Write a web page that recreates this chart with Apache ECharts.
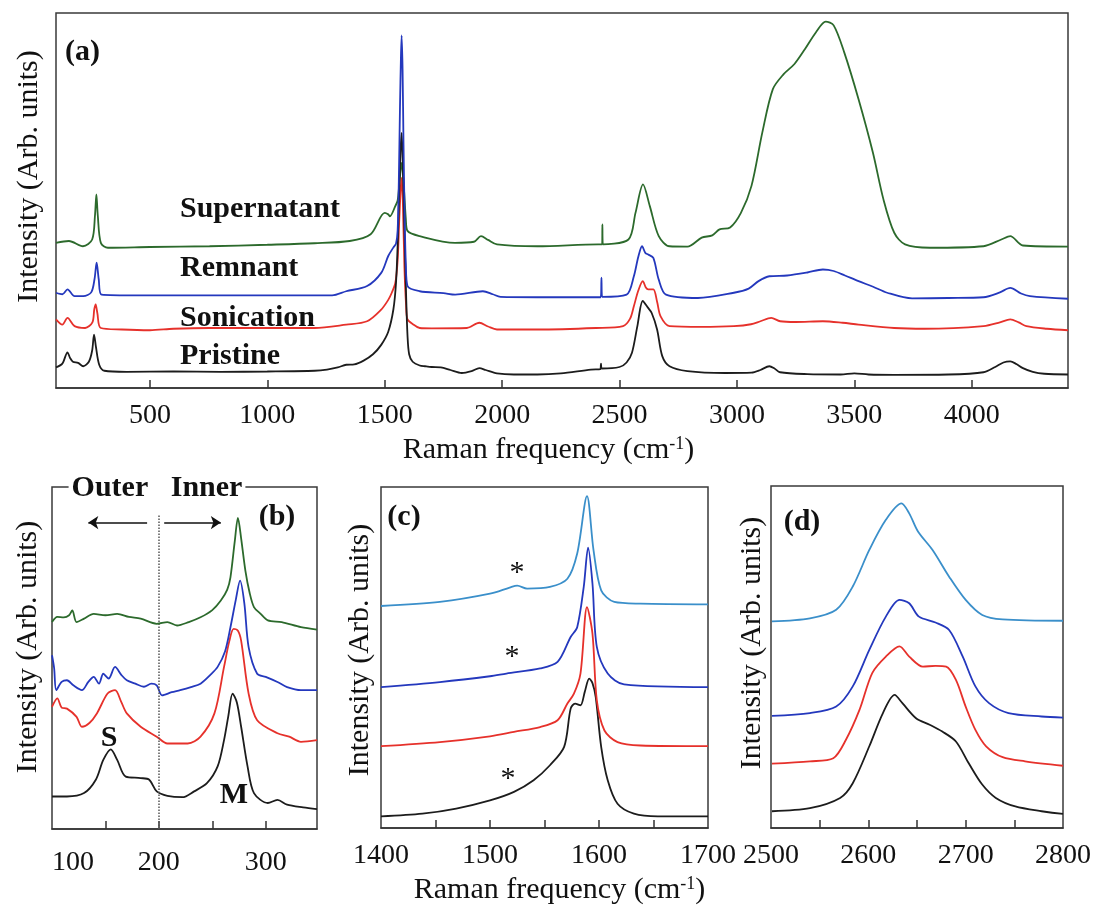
<!DOCTYPE html>
<html><head><meta charset="utf-8">
<script src="https://cdn.jsdelivr.net/npm/echarts@6/dist/echarts.min.js"></script>
<style>html,body{margin:0;padding:0;background:#fff}#c{width:1098px;height:909px}</style>
</head><body><div id="c"></div>
<script>
// ---------- Panel (a): full spectra ----------
const aTicks = [500, 1000, 1500, 2000, 2500, 3000, 3500, 4000];
const aPristine = [[100,5.5],[127,6.5],[149,9.5],[160,8],[172,7],[194,6.7],[216,5.8],[240,7],[254,10],[262,14.2],[270,11],[284,6.2],[306,4.6],[400,4.3],[600,4.4],[800,4.3],[1000,4.4],[1201,4.6],[1254,4.9],[1300,5.5],[1336,6.2],[1370,6.3],[1410,7.3],[1450,9],[1485,11.5],[1515,15],[1537,21],[1548,28],[1555,38],[1563,55],[1568,64],[1572,68],[1577,60],[1584,42],[1591,25],[1597,14],[1604,9],[1619,7],[1649,6],[1672,5.8],[1700,5.6],[1739,5.5],[1780,4.8],[1828,4.0],[1870,4.5],[1903,5.3],[1930,4.8],[1978,3.9],[2050,3.6],[2150,3.6],[2250,3.9],[2378,4.9],[2418,5.0],[2421,6.5],[2424,5.2],[2500,5.6],[2530,6.8],[2553,9.4],[2576,16.5],[2599,23.2],[2620,21.5],[2637,20],[2660,15.6],[2682,8.5],[2713,5.8],[2789,4.5],[2950,4.0],[3062,4.1],[3100,4.8],[3138,5.8],[3160,5.2],[3184,4.2],[3300,3.7],[3442,3.6],[3500,3.9],[3560,3.6],[3670,3.5],[3900,3.6],[4050,4.2],[4100,5.6],[4135,6.8],[4164,7.1],[4190,6.4],[4218,5.3],[4260,4.3],[4309,3.8],[4410,3.6]];
const aSonication = [[100,18.3],[127,16.9],[149,18.7],[179,16.5],[224,16],[255,17.5],[263,21],[269,22.3],[276,20],[291,16],[381,15.6],[500,15.4],[600,15.8],[754,16],[1000,16],[1201,16],[1336,16.9],[1425,17.8],[1485,20.9],[1515,23.5],[1530,25.4],[1545,28],[1555,34],[1562,45],[1568,53],[1572,56],[1577,50],[1584,32],[1591,22],[1597,18.3],[1620,17],[1649,16],[1700,15.9],[1850,16],[1903,17.4],[1940,16.4],[1978,15.6],[2150,15.6],[2400,16],[2515,16.5],[2545,18.5],[2561,21.8],[2580,26],[2599,28.5],[2612,26.8],[2622,26.3],[2644,26.3],[2660,23],[2675,19.1],[2713,16.5],[2850,16.3],[2987,16.5],[3060,17],[3100,17.8],[3146,18.7],[3184,17.8],[3250,17.6],[3366,17.8],[3450,17.4],[3518,16.9],[3670,16],[3800,15.8],[4050,16.5],[4120,17.5],[4164,18.3],[4200,17.5],[4233,16.5],[4320,15.8],[4410,15.4]];
const aRemnant = [[100,25.4],[127,25],[149,26.3],[179,24.5],[216,24.5],[250,25.5],[264,29],[273,33.4],[282,29],[294,24.9],[455,24.7],[800,24.7],[1276,24.7],[1336,25.8],[1425,27.2],[1485,30.7],[1515,35.2],[1537,37.5],[1548,38.5],[1555,42],[1560,55],[1565,75],[1569,88],[1572,94],[1576,85],[1580,65],[1585,45],[1590,33],[1597,27.2],[1649,25.8],[1750,25.3],[1800,24.9],[1918,25.8],[1960,25],[1993,24.3],[2150,24.2],[2420,24.2],[2423,29.4],[2426,24.3],[2530,24.9],[2561,29.8],[2580,35],[2596,37.8],[2610,36],[2622,35.6],[2644,34.7],[2667,28.9],[2698,24.9],[2834,24],[2987,25.4],[3050,26.5],[3092,28.5],[3138,29.8],[3214,30],[3300,30.8],[3366,31.6],[3412,31.2],[3460,30],[3518,28.5],[3580,27],[3640,25.4],[3746,23.9],[3900,24],[4050,24.2],[4120,25.5],[4164,26.7],[4210,25.2],[4248,24.5],[4410,23.8]];
const aSupernatant = [[100,38.7],[155,39.2],[215,37.8],[254,39.6],[266,46],[272,51.6],[278,46],[291,38.7],[321,37.4],[500,37.6],[754,37.8],[1000,38.2],[1201,38.6],[1351,39.2],[1440,41],[1500,46.7],[1515,46.3],[1522,45.8],[1545,48.5],[1555,50],[1563,55],[1572,60],[1580,55],[1590,45],[1597,41.9],[1649,40.5],[1799,38.7],[1880,39],[1910,40.5],[1940,39.5],[1978,38.3],[2150,37.8],[2409,38.3],[2426,38.3],[2427,43.6],[2429,38.3],[2538,39.6],[2568,46.7],[2600,54.3],[2629,48.5],[2667,40.5],[2713,37.8],[2789,37.7],[2850,40.1],[2895,40.7],[2926,42.3],[2971,42.8],[3017,46.7],[3062,53.9],[3108,68.1],[3153,79.7],[3199,83.7],[3245,86.4],[3290,90.4],[3336,94.8],[3378,97.7],[3412,96.7],[3457,89.5],[3518,77],[3579,62.8],[3624,50.3],[3670,41.4],[3716,38.3],[3822,37.4],[4050,37.8],[4126,39.6],[4164,40.5],[4218,38],[4410,37.7]];
const aNames = ['Supernatant', 'Remnant', 'Sonication', 'Pristine'];

// ---------- Panel (b): RBM region ----------
const bLabels = [100, 200, 300];
const bTicks = [150, 200, 250, 300];
const bPristine = [[100,9.5],[114,9.5],[130,10.5],[141,14.4],[148,20.2],[155,23.3],[161,20.2],[169,15.3],[183,14.9],[191,14.4],[198,11],[208,9.7],[222,9.3],[233,11],[245,13.4],[255,18.3],[261,26],[265,33],[269,39.6],[273,37],[277,29.9],[283,18.3],[289,10.5],[302,7.6],[311,8.5],[320,7.1],[335,6.3],[348,5.8]];
const bSonication = [[100,35.7],[105,38.2],[109,35.5],[114,35.2],[123,32.8],[128,29.9],[135,31],[142,33.8],[152,39.6],[159,40.6],[165,37],[170,33.8],[183,29.9],[198,27],[208,25],[227,25],[239,27],[252,33.8],[261,47.4],[266,55],[270,58.5],[274,58],[277,55.1],[284,39.6],[292,31.8],[311,28],[322,27],[333,25.5],[348,26]];
const bRemnant = [[100,50.8],[102,47],[104,40.6],[109,43],[114,43.5],[120,42],[128,40.6],[134,43],[139,44.5],[144,42.5],[148,45.4],[153,44],[159,47.4],[165,45],[170,43.5],[178,42.5],[186,41.6],[193,42.5],[198,42],[203,39.1],[212,40],[220,40.6],[230,41.5],[239,42.5],[248,45],[255,47.4],[262,52],[267,59],[272,67],[276,72.6],[280,66],[284,53.2],[292,45.4],[300,44.5],[311,43],[320,41.5],[333,40.6],[348,40.6]];
const bSupernatant = [[100,60.5],[105,62],[111,61.9],[116,62.5],[119,63.9],[123,60.5],[130,61.5],[139,62.9],[150,62.5],[161,62.9],[172,62],[183,61.5],[198,60],[208,60.5],[217,59.5],[228,60.5],[239,61.9],[250,64],[258,66.8],[264,70],[267,73.6],[271,84],[274,91],[277,85],[281,75.5],[285,69],[289,64.9],[295,63],[302,61],[315,60.5],[333,59],[348,58.3]];

// ---------- Panel (c): G band ----------
const cLabels = [1400, 1500, 1600, 1700];
const cTicks = [1450, 1500, 1550, 1600, 1650];
const cPristine = [[1400,3.4],[1438,4.2],[1469,5.7],[1500,8.1],[1522,10.6],[1540,14],[1555,18.4],[1568,23.8],[1574,35],[1578,36.5],[1583,36],[1587,40],[1591,43.8],[1594,42.5],[1597,38.4],[1602,23.8],[1608,14],[1617,7.1],[1632,4.2],[1654,3.4],[1700,3.4]];
const cSonication = [[1400,24],[1454,25.2],[1500,26.9],[1522,28.2],[1546,29.6],[1562,31.6],[1571,36.5],[1577,39.4],[1583,45.3],[1589,64.8],[1594,57],[1598,37.4],[1605,28.6],[1617,25.2],[1638,24.2],[1700,24]];
const cRemnant = [[1400,41.3],[1454,42.8],[1500,44.5],[1515,45.3],[1546,46.8],[1562,48.7],[1574,56],[1580,58.9],[1586,70.7],[1590,82.2],[1594,71.7],[1598,53.1],[1608,45.3],[1623,42.1],[1700,41.3]];
const cSupernatant = [[1400,65.1],[1454,66.3],[1500,68.7],[1518,70.5],[1525,71.1],[1534,70.2],[1555,70.7],[1571,73.1],[1580,80.5],[1589,97.3],[1595,81.4],[1602,69.7],[1614,66.3],[1638,65.8],[1700,65.6]];

// ---------- Panel (d): G' band ----------
const dLabels = [2500, 2600, 2700, 2800];
const dTicks = [2550, 2600, 2650, 2700, 2750];
const dPristine = [[2501,4.9],[2540,5.8],[2571,8.8],[2584,13.1],[2601,23.9],[2615,33.6],[2627,38.9],[2635,36.5],[2649,32.1],[2663,30.2],[2676,28.2],[2690,25.3],[2703,19],[2717,12.7],[2731,8.8],[2751,6.3],[2778,4.9],[2800,4.1]];
const dSonication = [[2501,18.8],[2540,19.5],[2564,20.4],[2577,25.8],[2591,34.6],[2604,45.3],[2618,50.1],[2632,53.1],[2642,50.1],[2656,47.2],[2669,47.4],[2680,47.2],[2690,43.3],[2700,35.5],[2710,28.7],[2721,23.9],[2738,20.7],[2761,19.5],[2800,18.2]];
const dRemnant = [[2501,32.8],[2540,33.6],[2567,35.5],[2584,41.4],[2601,52.1],[2618,61.8],[2632,66.7],[2642,65.7],[2652,61.8],[2669,60.1],[2683,57.9],[2697,50.1],[2710,41.4],[2724,36.5],[2744,33.6],[2778,32.6],[2800,32.3]];
const dSupernatant = [[2501,60.4],[2540,61.3],[2567,63.8],[2584,70.6],[2601,81.3],[2618,90.1],[2634,94.9],[2642,92],[2651,86.7],[2666,81.3],[2683,73.5],[2700,66.7],[2717,62.3],[2738,61],[2800,60.6]];

// ---------- Styles ----------
const FONT = 'Liberation Serif';
const COL = { green:'#2c6a2c', blue:'#2438bd', red:'#e6312b', black:'#1c1c1c', light:'#3a8fca' };
const yTitle = 'Intensity (Arb. units)';
const xTitle = 'Raman frequency (cm{sup|-1})';
const richSup = { sup: { fontFamily: FONT, fontSize: 18, verticalAlign: 'top', color: '#111' } };
const plainNum = function (v) { return String(v); };

function xAx(gi, min, max, labels, ticks, extra, labelExtra) {
  return Object.assign({
    type: 'value', gridIndex: gi, min: min, max: max,
    axisLine: { show: true, onZero: false, lineStyle: { color: '#333', width: 1.5 } },
    axisTick: { show: true, inside: true, length: 8, customValues: ticks, lineStyle: { color: '#333', width: 1.5 } },
    axisLabel: Object.assign({ customValues: labels, formatter: plainNum, fontFamily: FONT, fontSize: 28, color: '#111', margin: 14 }, labelExtra || {}),
    splitLine: { show: false }
  }, extra || {});
}
function yAx(gi, gap, pad) {
  return {
    type: 'value', gridIndex: gi, min: 0, max: 100,
    axisLine: { show: false }, axisTick: { show: false }, axisLabel: { show: false }, splitLine: { show: false },
    name: yTitle, nameLocation: 'middle', nameGap: gap,
    nameTextStyle: { fontFamily: FONT, fontSize: 30, color: '#111', padding: [0, 0, 0, pad] }
  };
}
function ln(gi, data, color, z) {
  return { type: 'line', xAxisIndex: gi, yAxisIndex: gi, data: data, symbol: 'none', showSymbol: false,
    smooth: 0.3, lineStyle: { color: color, width: 1.8 }, itemStyle: { color: color },
    silent: true, z: z || 2 };
}
function txt(x, y, text, opt) {
  return { type: 'text', x: x, y: y, silent: true, z: 50,
    style: Object.assign({ text: text, font: 'bold 30px "Liberation Serif"', fill: '#111',
      textAlign: 'left', align: 'left', textVerticalAlign: 'middle', verticalAlign: 'middle' }, opt || {}) };
}
const gridStyle = { show: true, borderColor: '#3a3a3a', borderWidth: 1.5, backgroundColor: 'transparent' };

const chart = echarts.init(document.getElementById('c'), null, { renderer: 'canvas' });
chart.setOption({
  animation: false,
  backgroundColor: '#fff',
  grid: [
    Object.assign({ left: 56, top: 13, width: 1012, height: 375 }, gridStyle),
    Object.assign({ left: 52, top: 487, width: 265, height: 342 }, gridStyle),
    Object.assign({ left: 381, top: 487, width: 327, height: 341 }, gridStyle),
    Object.assign({ left: 771, top: 486, width: 292, height: 342 }, gridStyle)
  ],
  xAxis: [
    xAx(0, 100, 4410, aTicks, aTicks, { name: xTitle, nameLocation: 'middle', nameGap: 47,
      nameTextStyle: { fontFamily: FONT, fontSize: 30, color: '#111', padding: [0, 27, 0, 0], rich: richSup } }),
    xAx(1, 100, 348, bLabels, bTicks, null, { margin: 20, alignMinLabel: 'left' }),
    xAx(2, 1400, 1700, cLabels, cTicks, { name: xTitle, nameLocation: 'middle', nameGap: 47,
      nameTextStyle: { fontFamily: FONT, fontSize: 30, color: '#111', padding: [0, 0, 0, 30], rich: richSup } }),
    xAx(3, 2500, 2800, dLabels, dTicks)
  ],
  yAxis: [ yAx(0, 12, 48), yAx(1, 9, 22), yAx(2, 6, 15), yAx(3, 4, 28) ],
  graphic: { elements: [
    txt(65, 52, '(a)'),
    txt(180, 209, aNames[0]),
    txt(180, 268, aNames[1]),
    txt(180, 318, aNames[2]),
    txt(180, 356, aNames[3]),
    txt(157, 488, 'Outer   Inner', { textAlign: 'center', align: 'center', backgroundColor: '#fff', padding: [0, 3] }),
    txt(277, 517, '(b)', { textAlign: 'center', align: 'center' }),
    txt(109, 738, 'S', { textAlign: 'center', align: 'center' }),
    txt(234, 795, 'M', { textAlign: 'center', align: 'center' }),
    txt(404, 517, '(c)', { textAlign: 'center', align: 'center' }),
    txt(517, 573, '*', { textAlign: 'center', align: 'center', font: '30px "Liberation Serif"' }),
    txt(512, 657, '*', { textAlign: 'center', align: 'center', font: '30px "Liberation Serif"' }),
    txt(508, 779, '*', { textAlign: 'center', align: 'center', font: '30px "Liberation Serif"' }),
    txt(802, 522, '(d)', { textAlign: 'center', align: 'center' })
  ] },
  series: [
    ln(0, aSupernatant, COL.green, 2),
    ln(0, aSonication, COL.red, 3),
    ln(0, aPristine, COL.black, 4),
    ln(0, aRemnant, COL.blue, 5),

    Object.assign(ln(1, bPristine, COL.black, 2), {
      markLine: { silent: true, symbol: ['none', 'arrow'], symbolSize: 10, label: { show: false },
        lineStyle: { color: '#111', width: 1.5, type: 'solid' },
        data: [
          [{ coord: [189, 89.6] }, { coord: [134, 89.6] }],
          [{ coord: [205, 89.6] }, { coord: [258, 89.6] }],
          [{ coord: [200, 0], symbol: 'none', lineStyle: { type: 'dotted', color: '#555', width: 1.5 } },
           { coord: [200, 92], symbol: 'none' }]
        ] } }),
    ln(1, bSonication, COL.red, 3),
    ln(1, bRemnant, COL.blue, 4),
    ln(1, bSupernatant, COL.green, 5),

    ln(2, cPristine, COL.black, 2),
    ln(2, cSonication, COL.red, 3),
    ln(2, cRemnant, COL.blue, 4),
    ln(2, cSupernatant, COL.light, 5),

    ln(3, dPristine, COL.black, 2),
    ln(3, dSonication, COL.red, 3),
    ln(3, dRemnant, COL.blue, 4),
    ln(3, dSupernatant, COL.light, 5)
  ]
});
</script></body></html>
